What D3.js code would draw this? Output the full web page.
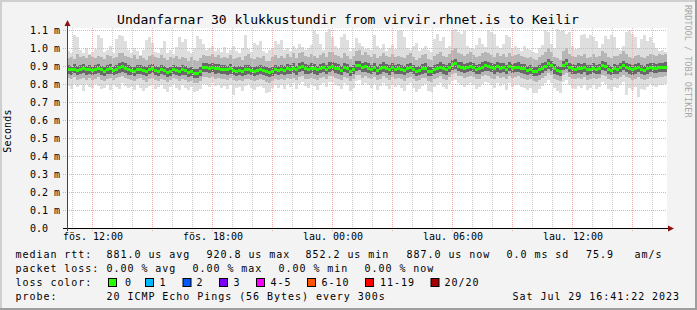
<!DOCTYPE html>
<html>
<head>
<meta charset="utf-8">
<script src="https://cdn.jsdelivr.net/npm/d3@7"></script>
<style>
body { margin: 0; background: #f3f3f3; }
svg text { font-family: "DejaVu Sans Mono", monospace; }
</style>
</head>
<body>
<svg class="chart" width="697" height="310"></svg>
<script>
// ---- data (round trip times in microseconds, one column = 9 minutes) ----
var startTime = Date.UTC(2023, 6, 28, 10, 45),
    hours = 30,
    stepMinutes = 9;

var medianRtt = [
  880,878,883,876,880,885,879,882,875,880, 886,878,872,880,884,876,881,889,895,888,
  880,876,870,878,882,874,868,879,885,877, 872,880,874,866,872,880,876,869,878,873,
  865,870,860,858,870,893,890,888,892,885, 887,882,880,878,884,876,872,875,870,878,
  882,876,870,874,880,876,868,862,872,880, 876,882,876,884,880,888,878,892,896,885,
  880,888,884,878,886,890,882,894,896,888, 884,876,892,886,872,880,900,905,890,895,
  888,882,890,876,884,894,886,878,890,882, 885,880,874,886,892,880,870,876,884,888,
  872,868,880,886,894,884,878,890,908,915, 898,894,886,890,898,892,880,884,894,900,
  896,890,884,895,888,892,880,896,886,890, 894,886,884,876,880,870,868,878,888,896,
  915,900,884,876,870,905,915,892,884,880, 888,884,890,878,882,888,880,884,905,896,
  880,876,884,882,890,904,892,884,878,884, 890,880,876,884,892,888,886,892,890,894
];
var midLoRtt = [
  858,852,860,850,856,862,848,857,850,855, 860,851,846,856,858,849,855,862,866,860,
  852,850,844,853,857,848,842,854,860,850, 846,855,850,840,847,856,850,844,852,848,
  840,846,836,834,845,866,864,860,866,858, 860,856,853,850,858,850,846,849,843,852,
  856,850,845,848,854,850,842,838,846,855, 850,856,850,858,854,862,850,866,870,858,
  854,862,857,851,860,864,856,868,870,862, 857,850,866,860,846,854,874,878,864,868,
  862,856,864,850,858,868,860,852,864,856, 858,854,848,860,866,854,844,850,858,862,
  846,842,854,860,868,858,852,864,880,886, 872,868,860,864,872,866,854,858,868,874,
  870,864,858,869,862,866,854,870,860,864, 868,860,858,850,854,844,842,852,862,870,
  886,874,858,850,844,878,886,866,858,854, 862,858,864,852,856,862,854,858,878,870,
  854,850,858,856,864,876,866,858,852,858, 864,854,850,858,866,862,860,866,864,868
];
var midHiRtt = [
  904,900,910,898,906,912,902,908,899,905, 912,902,896,906,910,900,906,916,924,914,
  906,900,894,903,908,898,892,904,912,902, 896,906,900,890,897,906,902,894,904,898,
  890,896,886,884,896,918,916,912,918,910, 912,906,904,902,910,900,896,900,894,904,
  908,900,894,898,906,900,892,888,896,906, 900,908,900,910,906,914,902,918,922,910,
  906,914,910,902,912,916,908,920,922,914, 910,900,918,912,896,906,926,930,914,920,
  914,908,916,900,910,920,912,904,916,908, 910,906,898,912,918,906,894,900,910,914,
  898,892,906,912,920,910,904,916,932,940, 924,920,912,916,924,918,906,910,920,926,
  922,916,910,921,914,918,906,922,912,916, 920,912,910,902,906,896,894,904,914,922,
  940,926,910,902,896,930,940,918,910,906, 914,910,916,904,908,914,906,910,930,922,
  906,902,910,908,916,930,918,910,904,910, 916,906,902,910,918,914,912,918,916,920
];
var loRtt = [
  832,826,838,822,830,836,820,834,824,829, 837,825,818,830,834,822,831,838,842,834,
  826,822,815,828,833,820,812,829,836,824, 818,830,824,810,820,832,826,815,828,821,
  812,818,806,804,818,840,838,832,840,830, 834,828,826,822,832,824,818,822,814,826,
  830,822,816,820,828,824,812,806,818,829, 822,830,822,832,828,836,824,840,844,830,
  826,836,830,822,834,838,828,842,846,834, 830,820,840,834,816,826,848,852,836,842,
  836,828,838,820,830,842,834,824,838,828, 832,826,818,834,840,826,814,822,832,836,
  816,812,828,834,842,830,824,838,854,860, 846,842,832,838,846,840,826,830,842,848,
  844,836,830,843,834,840,826,844,832,838, 842,834,830,822,828,814,812,824,836,844,
  860,848,830,822,814,852,860,840,830,826, 836,830,838,824,828,836,826,832,852,844,
  828,822,832,828,838,852,840,832,824,830, 838,826,822,830,840,836,832,840,838,842
];
var hiRtt = [
  945,952,940,968,948,958,944,962,950,942, 956,948,940,960,954,946,952,970,975,958,
  950,944,962,940,958,946,936,955,962,948, 942,960,946,936,952,944,958,938,950,944,
  930,948,934,928,945,962,958,954,966,952, 960,946,952,944,962,940,944,950,934,956,
  964,944,938,952,946,958,930,926,948,960, 946,958,944,966,950,972,946,970,980,958,
  948,968,956,944,962,970,952,976,978,960, 956,944,972,958,938,954,985,990,962,976,
  960,952,966,944,958,974,956,948,968,952, 958,950,942,962,970,952,936,946,962,968,
  940,934,954,966,976,958,950,968,990,998, 972,966,958,964,976,962,948,956,970,980,
  972,962,952,970,958,966,948,974,956,962, 968,958,952,944,950,938,934,948,962,976,
  998,978,952,944,936,985,998,966,954,950, 962,954,966,946,952,964,948,956,984,970,
  952,944,958,954,966,982,966,952,946,956, 962,950,946,956,968,960,958,964,960,966
];
var minRtt = [
  790,770,800,782,794,760,798,786,776,800, 788,772,780,796,764,792,784,770,806,790,
  778,786,768,794,780,762,776,790,798,772, 784,796,770,758,786,798,780,766,792,778,
  764,782,756,760,774,800,794,786,804,790, 796,780,788,772,794,740,778,784,760,788,
  798,776,768,782,790,780,752,758,776,796, 780,792,770,798,786,806,774,800,812,788,
  776,800,790,768,796,804,782,810,812,794, 788,770,806,792,762,780,816,820,794,806,
  796,780,798,766,788,808,790,772,800,784, 792,778,760,796,804,780,756,770,790,798,
  762,754,784,796,806,786,774,798,818,822, 804,796,782,792,808,794,770,782,800,812,
  806,792,776,804,788,798,764,806,784,794, 800,786,780,766,780,752,748,770,790,808,
  824,806,776,762,750,810,820,794,778,772, 790,780,796,768,776,792,770,784,812,800,
  772,760,784,776,796,810,740,778,764,782, 730,774,766,784,800,790,784,796,792,800
];
var maxRtt = [
  985,970,1075,1060,990,975,1000,965,980,995, 1070,1055,980,990,1010,970,1050,1075,1065,1040,
  990,975,1000,985,960,990,1045,1060,1030,980, 970,1000,1040,975,990,965,1005,1060,1035,1050,
  985,970,1000,1065,1050,1020,990,1000,1010,985, 995,980,1005,975,990,1010,985,970,1000,1070,
  995,980,1030,1015,1040,985,970,990,1000,1040, 1025,1045,990,1000,985,1010,995,1020,1005,990,
  1000,1015,1100,1080,1020,990,1090,1105,1060,1010, 995,1060,1080,1045,985,1000,1055,1030,1010,995,
  1000,990,1075,1010,995,1020,985,1000,1015,995, 1095,1100,1060,1000,990,1010,1030,985,995,1010,
  990,980,1050,1080,1040,1060,1000,1010,1100,1105, 1090,1080,1095,1010,1000,995,1015,1055,1020,1005,
  1100,1090,1080,1010,1000,1020,1070,1060,995,1010, 1000,985,1010,995,990,980,970,1000,1015,1100,
  1090,1020,1000,1105,1095,1100,1080,1090,1010,995, 1000,1070,1080,1055,1070,1060,1040,1000,1020,1065,
  1050,1070,1060,1000,990,1010,1090,1100,1080,1060, 1000,1050,1070,1040,1060,1030,1000,985,990,980
];

var yTicks = [0, 100, 200, 300, 400, 500, 600, 700, 800, 900, 1000, 1100];
var yTickLabels = ["0.0", "0.1 m", "0.2 m", "0.3 m", "0.4 m", "0.5 m", "0.6 m",
                   "0.7 m", "0.8 m", "0.9 m", "1.0 m", "1.1 m"];
var dayNames = ["sun.", "mán.", "þri.", "mið.", "fim.", "fös.", "lau."];

var titleText = "Undanfarnar 30 klukkustundir from virvir.rhnet.is to Keilir";
var rttStats = ["median rtt:", "881.0 us avg", "920.8 us max", "852.2 us min",
                "887.0 us now", "0.0 ms sd", "75.9", "am/s"];
var lossStats = ["packet loss:", "0.00 % avg", "0.00 % max", "0.00 % min", "0.00 % now"];
var lossLabels = ["0", "1", "2", "3", "4-5", "6-10", "11-19", "20/20"];
var lossColors = ["#26ff00", "#00b8ff", "#0059ff", "#7e00ff", "#ff00ff", "#ff5500", "#ff0000", "#a10000"];
var probeText = ["probe:", "20 ICMP Echo Pings (56 Bytes) every 300s", "Sat Jul 29 16:41:22 2023"];

// ---- layout ----
var svg = d3.select(".chart"),
    margin = { top: 28, right: 30, bottom: 82, left: 67 },
    width = +svg.attr("width") - margin.left - margin.right,
    height = +svg.attr("height") - margin.top - margin.bottom;

var endTime = startTime + hours * 3600 * 1000,
    stepMs = stepMinutes * 60 * 1000;

var x = d3.scaleUtc().domain([new Date(startTime), new Date(endTime)]).range([0, width]),
    y = d3.scaleLinear().domain([0, 1100 * height / 198]).range([height, 0]);

// background + 3d border
svg.append("rect").attr("width", 697).attr("height", 310).attr("fill", "#f3f3f3");
svg.append("path").attr("d", "M0,310V0H697").attr("fill", "none")
    .attr("stroke", "#cfcfcf").attr("stroke-width", 4);
svg.append("path").attr("d", "M0,310H697V0").attr("fill", "none")
    .attr("stroke", "#9e9e9e").attr("stroke-width", 4);

svg.append("text")
    .attr("x", 348).attr("y", 24)
    .attr("text-anchor", "middle")
    .attr("font-size", "13px")
    .attr("fill", "#000")
    .text(titleText);

svg.append("text")
    .attr("transform", "translate(685,5) rotate(90)")
    .attr("font-size", "8.5px")
    .attr("fill", "#a8a8a8")
    .text("RRDTOOL / TOBI OETIKER");

svg.append("text")
    .attr("transform", "translate(10.5,131) rotate(-90)")
    .attr("text-anchor", "middle")
    .attr("font-size", "10px")
    .attr("letter-spacing", "0.2px")
    .text("Seconds");

var g = svg.append("g")
    .attr("transform", "translate(" + margin.left + "," + margin.top + ")");

g.append("rect").attr("width", width).attr("height", height).attr("fill", "#fff");

// smoke
var cols = d3.range(medianRtt.length);
function colX(i) { return x(new Date(startTime + i * stepMs)); }

var bands = [
    [minRtt, loRtt, "#dedede"],
    [loRtt, midLoRtt, "#b6b6b6"],
    [midLoRtt, medianRtt, "#686868"],
    [medianRtt, midHiRtt, "#686868"],
    [midHiRtt, hiRtt, "#b6b6b6"],
    [hiRtt, maxRtt, "#dedede"]
];

var smoke = g.append("g").attr("class", "smoke").attr("shape-rendering", "crispEdges");
bands.forEach(function(b) {
    smoke.append("g").selectAll("rect")
        .data(cols)
        .enter().append("rect")
        .attr("x", function(i) { return colX(i); })
        .attr("width", function(i) { return colX(i + 1) - colX(i); })
        .attr("y", function(i) { return y(Math.max(b[0][i], b[1][i])); })
        .attr("height", function(i) { return Math.abs(y(b[0][i]) - y(b[1][i])); })
        .attr("fill", b[2]);
});

// grid
var grid = g.append("g").attr("class", "grid").attr("shape-rendering", "crispEdges");
var minorTimes = x.ticks(d3.utcHour.every(1)).filter(function(d) { return d.getUTCHours() % 3 != 0; }),
    majorTimes = x.ticks(d3.utcHour.every(3));

grid.selectAll(".minor")
    .data(minorTimes)
    .enter().append("line")
    .attr("class", "minor")
    .attr("x1", function(d) { return Math.round(x(d)) + 0.5; })
    .attr("x2", function(d) { return Math.round(x(d)) + 0.5; })
    .attr("y1", 0).attr("y2", height + 2)
    .attr("stroke", "#cccccc")
    .attr("stroke-dasharray", "1,1");

grid.selectAll(".major")
    .data(majorTimes)
    .enter().append("line")
    .attr("class", "major")
    .attr("x1", function(d) { return Math.round(x(d)) + 0.5; })
    .attr("x2", function(d) { return Math.round(x(d)) + 0.5; })
    .attr("y1", 0).attr("y2", height + 3)
    .attr("stroke", "#f4aaaa")
    .attr("stroke-dasharray", "1,1");

grid.selectAll(".hgrid")
    .data(yTicks.slice(1))
    .enter().append("line")
    .attr("class", "hgrid")
    .attr("x1", -4).attr("x2", width)
    .attr("y1", function(d) { return Math.round(y(d)) + 0.5; })
    .attr("y2", function(d) { return Math.round(y(d)) + 0.5; })
    .attr("stroke", "#f4aaaa")
    .attr("stroke-dasharray", "1,1");

// median, drawn as a block per column
g.append("g").attr("shape-rendering", "crispEdges")
    .selectAll("rect")
    .data(cols)
    .enter().append("rect")
    .attr("x", function(i) { return colX(i); })
    .attr("width", function(i) { return colX(i + 1) - colX(i); })
    .attr("y", function(i) { return Math.round(y(medianRtt[i]) - 1.5); })
    .attr("height", 3)
    .attr("fill", lossColors[0]);

// axes
var axis = g.append("g").attr("shape-rendering", "crispEdges");
axis.append("line").attr("x1", -4).attr("x2", width + 2)
    .attr("y1", height + 0.5).attr("y2", height + 0.5).attr("stroke", "#000");
axis.append("line").attr("x1", 0.5).attr("x2", 0.5)
    .attr("y1", height + 3).attr("y2", -4).attr("stroke", "#444");
g.append("path").attr("d", "M" + (width + 1) + "," + (height - 2.5) + "l6,3l-6,3z").attr("fill", "#8b1010");
g.append("path").attr("d", "M-2.5," + (-2) + "l3,-6l3,6z").attr("fill", "#8b1010");

g.selectAll(".ylabel")
    .data(yTicks)
    .enter().append("text")
    .attr("class", "ylabel")
    .attr("x", -37)
    .attr("y", function(d) { return y(d) + 3.5; })
    .attr("font-size", "10px")
    .text(function(d, i) { return yTickLabels[i]; });

var fmtTime = d3.utcFormat("%H:%M");
g.selectAll(".xlabel")
    .data(x.ticks(d3.utcHour.every(6)))
    .enter().append("text")
    .attr("class", "xlabel")
    .attr("x", function(d) { return x(d) + 1; })
    .attr("y", height + 12)
    .attr("text-anchor", "middle")
    .attr("font-size", "10px")
    .text(function(d) { return dayNames[d.getUTCDay()] + " " + fmtTime(d); });

// legend
var legend = svg.append("g")
    .attr("font-size", "10px")
    .attr("letter-spacing", "0.96px")
    .attr("fill", "#000");

var rttX = [15.5, 106.5, 206.5, 305.5, 406.5, 506.5, 586, 634.5];
rttStats.forEach(function(t, i) {
    legend.append("text").attr("x", rttX[i]).attr("y", 258).text(t);
});

var lossX = [15.5, 106.5, 192.5, 278.5, 364.5];
lossStats.forEach(function(t, i) {
    legend.append("text").attr("x", lossX[i]).attr("y", 272).text(t);
});

legend.append("text").attr("x", 15.5).attr("y", 286).text("loss color:");
var boxX = [108, 145, 182.5, 219, 256, 307, 365, 430.5],
    labelX = [125, 159.5, 196.5, 233.5, 270.5, 321.5, 380, 444.5];
lossLabels.forEach(function(t, i) {
    legend.append("rect")
        .attr("x", boxX[i] + 0.5).attr("y", 278.5)
        .attr("width", 8).attr("height", 8)
        .attr("fill", lossColors[i])
        .attr("stroke", "#000");
    legend.append("text").attr("x", labelX[i]).attr("y", 286).text(t);
});

legend.append("text").attr("x", 15.5).attr("y", 300).text(probeText[0]);
legend.append("text").attr("x", 106.5).attr("y", 300).text(probeText[1]);
legend.append("text").attr("x", 512.5).attr("y", 300).text(probeText[2]);
</script>
</body>
</html>
